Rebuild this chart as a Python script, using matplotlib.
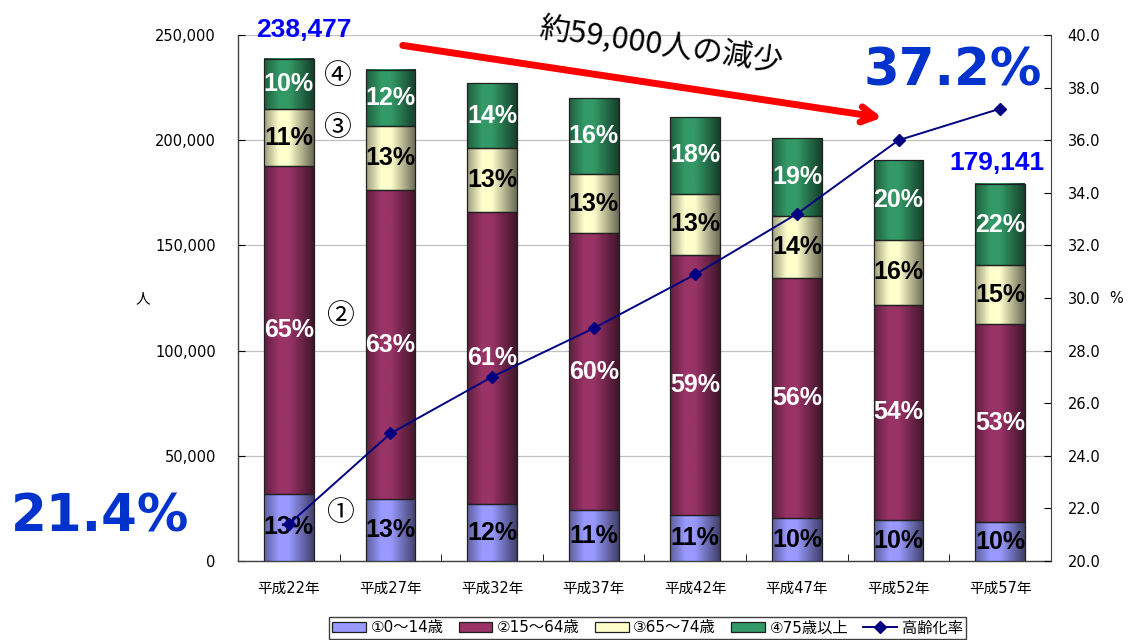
import numpy as np
import matplotlib.pyplot as plt
from matplotlib.patches import Patch
from matplotlib.lines import Line2D
from matplotlib.colors import to_rgb
from matplotlib.ticker import FuncFormatter

plt.rcParams['font.family'] = ['DejaVu Sans', 'Noto Sans CJK JP']

#*********************************************************************************
# data
years = ['平成22年', '平成27年', '平成32年', '平成37年', '平成42年', '平成47年', '平成52年', '平成57年']

age_0_14 = [31900, 29500, 27100, 24200, 22000, 20400, 19500, 18500]
age_15_64 = [155700, 146800, 138800, 131700, 123500, 114100, 102200, 94100]
age_65_74 = [27100, 30400, 30300, 28000, 29000, 29500, 30900, 28000]
age_75_over = [23777, 26800, 30800, 36100, 36500, 37000, 38000, 38541]

aging_rate = [21.4, 24.85, 27.0, 28.85, 30.9, 33.2, 36.0, 37.2]

lbl_0_14 = ['13%', '13%', '12%', '11%', '11%', '10%', '10%', '10%']
lbl_15_64 = ['65%', '63%', '61%', '60%', '59%', '56%', '54%', '53%']
lbl_65_74 = ['11%', '13%', '13%', '13%', '13%', '14%', '16%', '15%']
lbl_75_over = ['10%', '12%', '14%', '16%', '18%', '19%', '20%', '22%']

series_names = ['①0〜14歳', '②15〜64歳', '③65〜74歳', '④75歳以上']
line_name = '高齢化率'

#*********************************************************************************
colors = ['#9999ff', '#993366', '#ffffcc', '#339966']
txt_colors = ['black', 'white', 'black', 'white']
narrow = ['Liberation Sans', 'DejaVu Sans']
cjk = ['Noto Sans CJK JP', 'DejaVu Sans']


def gradient(base):
   t = np.linspace(0, 1, 64)
   prof = np.interp(t, [0, 0.3, 0.5, 1], [0.62, 1.0, 1.0, 0.42])
   rgb = np.array(to_rgb(base))
   return (prof[:, None] * rgb[None, :])[None, :, :]


fig = plt.figure(figsize=(11.3, 6.4), dpi=100)
ax = fig.add_axes([0.2106, 0.1234, 0.7195, 0.8219])

x = np.arange(len(years))
width = 0.49
bottom = np.zeros(len(years))
all_series = [age_0_14, age_15_64, age_65_74, age_75_over]
all_labels = [lbl_0_14, lbl_15_64, lbl_65_74, lbl_75_over]

for vals, col, tcol, lbls in zip(all_series, colors, txt_colors, all_labels):
   vals = np.array(vals, dtype=float)
   bars = ax.bar(x, vals, width, bottom=bottom, facecolor='none',
                 edgecolor='#202020', lw=0.9, zorder=4)
   grad = gradient(col)
   for rect in bars:
      x0, y0 = rect.get_x(), rect.get_y()
      ax.imshow(grad, extent=[x0, x0 + rect.get_width(), y0, y0 + rect.get_height()],
                aspect='auto', interpolation='bilinear', zorder=3)
   for xi, b, v, s in zip(x, bottom, vals, lbls):
      ax.text(xi, b + v / 2, s, ha='center', va='center', color=tcol,
              fontsize=18, fontweight='bold', family=narrow, zorder=5)
   bottom = bottom + vals

ax.set_xlim(-0.5, len(years) - 0.5)
ax.set_ylim(0, 250000)
ax.set_yticks(np.arange(0, 250001, 50000))
ax.yaxis.set_major_formatter(FuncFormatter(lambda v, p: '{:,.0f}'.format(v)))
ax.yaxis.grid(True, color='#c0c0c0', lw=0.9)
ax.set_axisbelow(True)
ax.set_xticks(x)
ax.set_xticklabels(years)
ax.set_xticks(x[:-1] + 0.5, minor=True)
ax.tick_params(axis='x', which='major', length=0, pad=14, labelsize=10.5)
ax.tick_params(axis='x', which='minor', direction='in', length=5)
ax.tick_params(axis='y', direction='in', length=5, labelsize=10.5, pad=16)
ax.spines['top'].set_visible(False)
ax.spines['right'].set_visible(False)
for s in ['left', 'bottom']:
   ax.spines[s].set_color('#404040')
   ax.spines[s].set_linewidth(1.0)

# secondary axis: aging rate
ax2 = ax.twinx()
ax2.plot(x, aging_rate, color='#000080', lw=1.4, marker='D', ms=6, zorder=6)
ax2.set_ylim(20, 40)
ax2.set_yticks(np.arange(20, 40.1, 2))
ax2.yaxis.set_major_formatter(FuncFormatter(lambda v, p: '%.1f' % v))
ax2.tick_params(axis='y', direction='in', length=5, labelsize=10.5, pad=12)
ax2.spines['top'].set_visible(False)
ax2.spines['left'].set_visible(False)
ax2.spines['bottom'].set_visible(False)
ax2.spines['right'].set_color('#404040')

fig.text(0.126, 0.534, '人', ha='center', va='center', fontsize=10.5)
fig.text(0.988, 0.534, '%', ha='center', va='center', fontsize=10.5)

# annotations
fig.text(0.269, 0.953, '238,477', ha='center', va='center', color='#0000ff',
         fontsize=19, fontweight='bold', family=narrow)
fig.text(0.882, 0.745, '179,141', ha='center', va='center', color='#0000ff',
         fontsize=19, fontweight='bold', family=narrow)
fig.text(0.0885, 0.191, '21.4%', ha='center', va='center', color='#0033cc',
         fontsize=37, fontweight='bold')
fig.text(0.843, 0.8875, '37.2%', ha='center', va='center', color='#0033cc',
         fontsize=37, fontweight='bold')
fig.text(0.585, 0.928, '約59,000人の減少', ha='center', va='center', rotation=-8,
         fontsize=22, family=cjk)
ax.annotate('', xy=(0.783, 0.8156), xycoords='figure fraction',
            xytext=(0.354, 0.9297), textcoords='figure fraction',
            arrowprops=dict(arrowstyle='->,head_length=1.0,head_width=0.55',
                            color='#ff0000', lw=5), zorder=7)

for s, pos in zip(['④', '③', '②', '①'],
                  [(0.298, 0.881), (0.298, 0.800), (0.301, 0.506), (0.301, 0.198)]):
   fig.text(pos[0], pos[1], s, ha='center', va='center', fontsize=20, family=cjk)

# legend
handles = [Patch(facecolor=c, edgecolor='#202020', lw=0.9) for c in colors]
handles.append(Line2D([], [], color='#000080', lw=1.4, marker='D', ms=6))
fig.legend(handles, series_names + [line_name], loc='center', ncol=5,
           bbox_to_anchor=(0.573, 0.019), frameon=True, fancybox=False,
           edgecolor='#404040', fontsize=11, handlelength=2.2,
           handletextpad=0.3, columnspacing=1.0, borderpad=0.25,
           framealpha=1)

plt.savefig('out.png', dpi=100)
plt.close()
